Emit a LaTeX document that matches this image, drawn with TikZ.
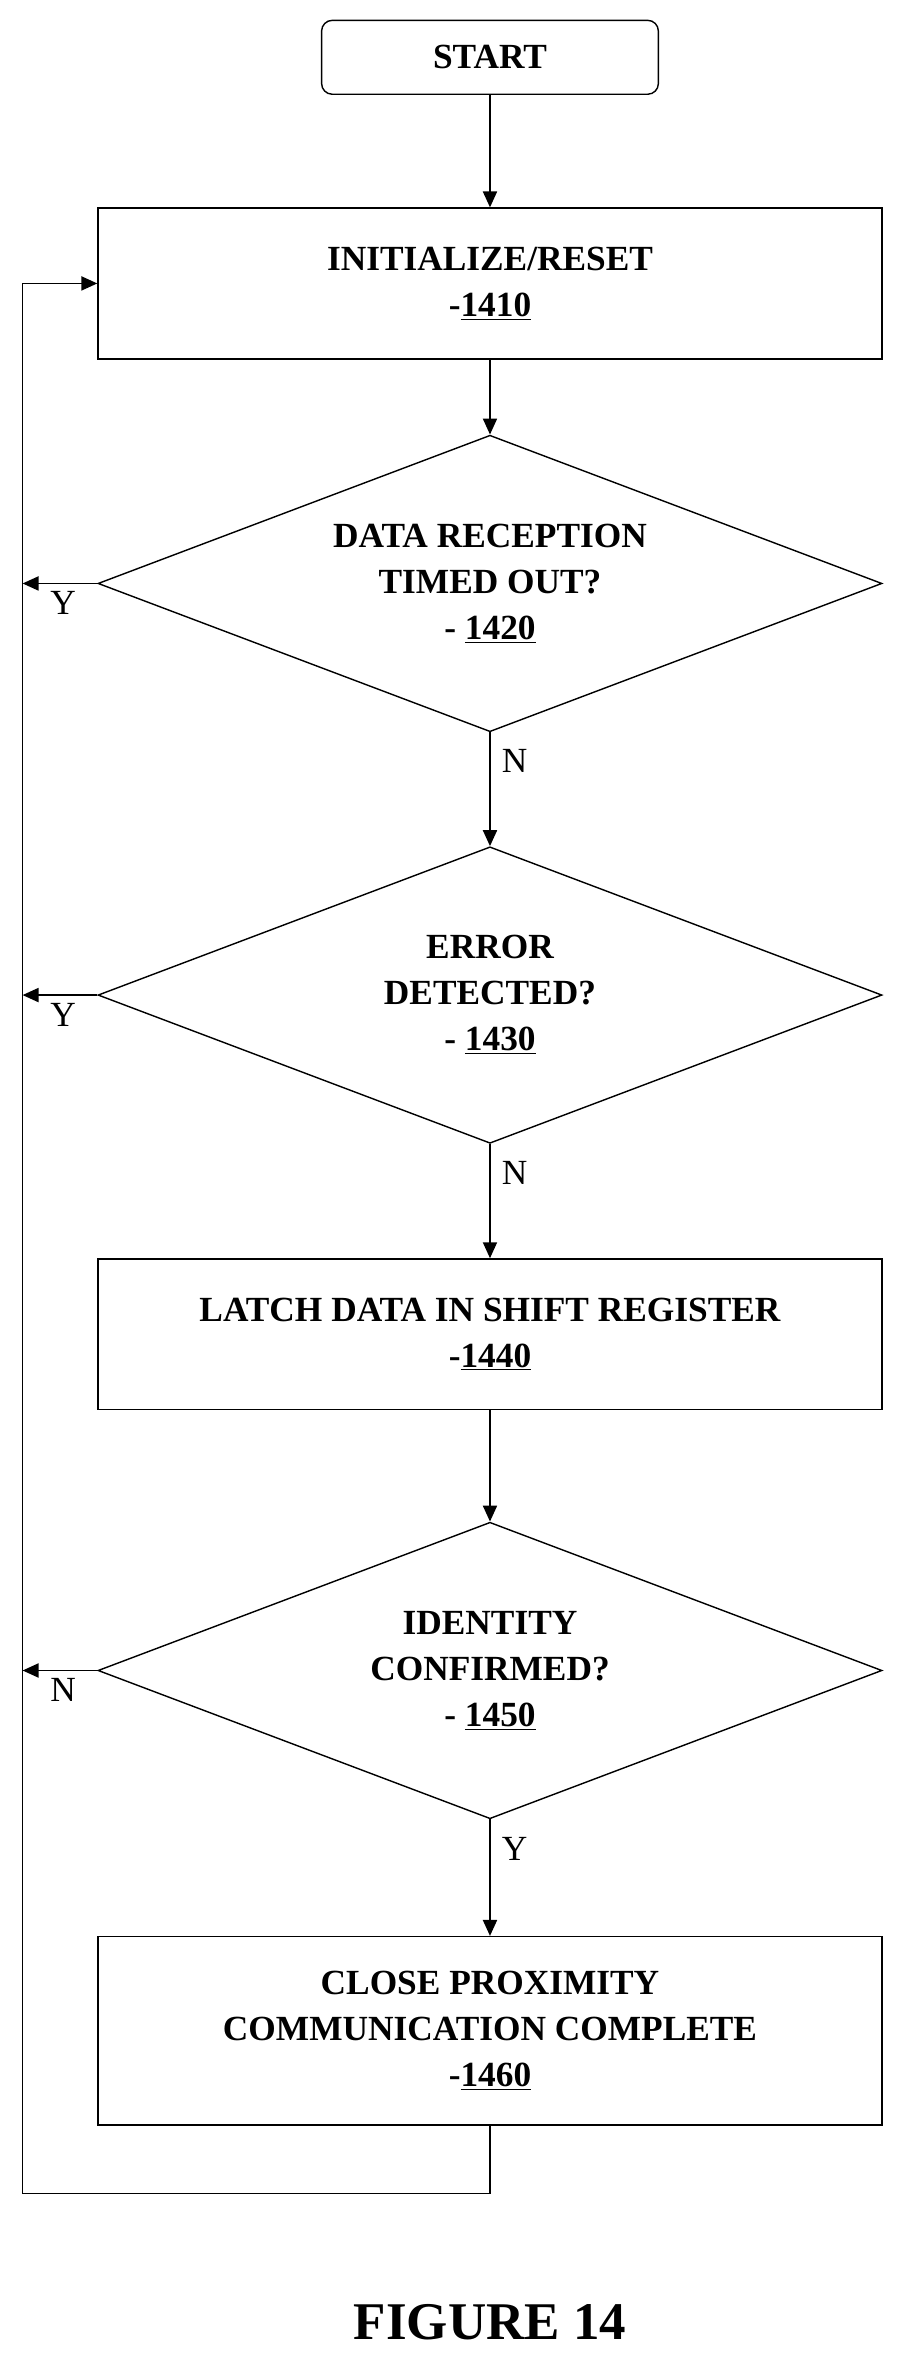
\documentclass[tikz,border=0pt]{standalone}
\usepackage{fontspec}
\setmainfont{Liberation Serif}
\usetikzlibrary{arrows.meta, shapes.geometric, calc, positioning}
\tikzset{
    my-box/.style={
        draw, thick, rectangle, minimum width=15.6cm, align=center,
        font=\fontsize{20}{26}\selectfont\bfseries
    },
    my-decision/.style={
        draw, thick, diamond, aspect=2.64, minimum width=15.6cm, minimum height=5.9cm,
        inner sep=0pt, align=center, font=\fontsize{20}{26}\selectfont\bfseries
    },
    my-flow/.style={
        thick, -{Triangle[length=9pt, width=8pt]}
    },
    my-tag/.style={
        font=\fontsize{20}{22}\selectfont
    },
}

\begin{document}
\begin{tikzpicture}[x=0.03cm, y=-0.03cm]

        \useasboundingbox (0, 0) rectangle (600, 1568);

        % STEPS
        \node[my-box, rounded corners=6pt, minimum width=6.7cm, minimum height=1.47cm] (START) at (325, 38) {START};
        \node[my-box, minimum height=3cm]    (INIT)  at (325, 188)  {INITIALIZE/RESET\\-\underline{1410}};
        \node[my-decision]                   (TOUT)  at (325, 387)  {DATA RECEPTION\\TIMED OUT?\\- \underline{1420}};
        \node[my-decision]                   (ERR)   at (325, 660)  {ERROR\\DETECTED?\\- \underline{1430}};
        \node[my-box, minimum height=3cm]    (LATCH) at (325, 885)  {LATCH DATA IN SHIFT REGISTER\\-\underline{1440}};
        \node[my-decision]                   (IDENT) at (325, 1108) {IDENTITY\\CONFIRMED?\\- \underline{1450}};
        \node[my-box, minimum height=3.75cm] (CLOSE) at (325, 1347) {CLOSE PROXIMITY\\COMMUNICATION COMPLETE\\-\underline{1460}};

        % LOOP CORNERS
        \coordinate (LOOPB) at (15, 1455);
        \coordinate (LOOPT) at (15, 188);

        % MAIN FLOW
        \draw[my-flow] (START) -- (INIT);
        \draw[my-flow] (INIT)  -- (TOUT);
        \draw[my-flow] (TOUT)  -- node[my-tag, right=3pt, pos=0.25] (N1) {N} (ERR);
        \draw[my-flow] (ERR)   -- node[my-tag, right=3pt, pos=0.25] (N2) {N} (LATCH);
        \draw[my-flow] (LATCH) -- (IDENT);
        \draw[my-flow] (IDENT) -- node[my-tag, right=3pt, pos=0.25] (Y3) {Y} (CLOSE);

        % RETURN PATHS
        \draw[my-flow] (TOUT.west)  -- (TOUT.west -| LOOPT)  node[my-tag, anchor=north west, xshift=12pt, yshift=-1pt] (Y1) {Y};
        \draw[my-flow] (ERR.west)   -- (ERR.west -| LOOPT)   node[my-tag, anchor=north west, xshift=12pt, yshift=-1pt] (Y2) {Y};
        \draw[my-flow] (IDENT.west) -- (IDENT.west -| LOOPT) node[my-tag, anchor=north west, xshift=12pt, yshift=-1pt] (N3) {N};
        \draw[my-flow] (CLOSE.south) |- (LOOPB) -- (LOOPT) -- (INIT.west);

        % CAPTION
        \node[font=\fontsize{30}{34}\selectfont\bfseries] (FIG) at (325, 1540) {FIGURE 14};

\end{tikzpicture}
\end{document}
